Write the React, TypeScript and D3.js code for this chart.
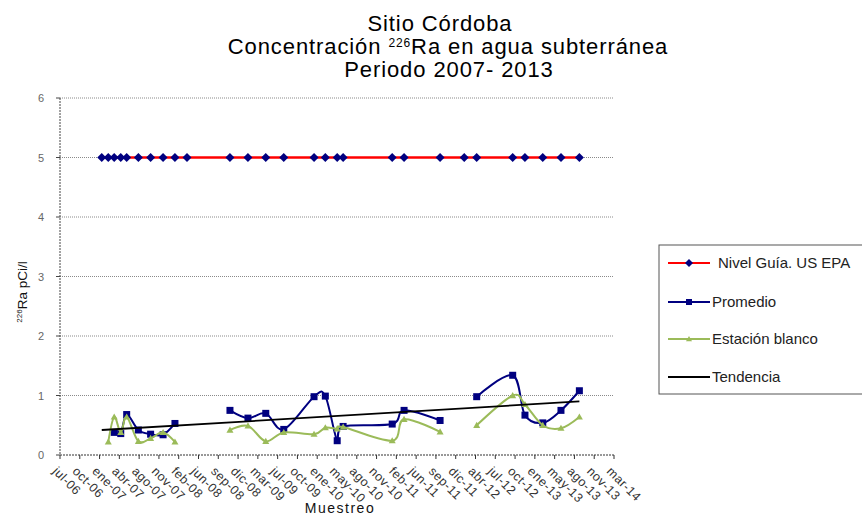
import React from "react";
import * as d3 from "d3";

const sampleDates = [
  "2007-01-29", "2007-03-03", "2007-04-02", "2007-05-05", "2007-06-04", "2007-08-02",
  "2007-10-03", "2007-12-05", "2008-02-03", "2008-04-04", "2008-11-07", "2009-02-06",
  "2009-05-07", "2009-08-06", "2010-01-06", "2010-03-04", "2010-05-03", "2010-06-02",
  "2011-02-05", "2011-04-06", "2011-10-05", "2012-02-04", "2012-04-07", "2012-10-06",
  "2012-12-07", "2013-03-07", "2013-06-07", "2013-09-08",
];
const nivelGuia = sampleDates.map(() => 5);
const promedio: (number | null)[] = [
  null, null, 0.38, 0.36, 0.68, 0.42, 0.35, 0.34, 0.53, null, 0.75, 0.62,
  0.70, 0.43, 0.98, 0.99, 0.24, 0.48, 0.52, 0.75, 0.58, null, 0.98, 1.34,
  0.67, 0.54, 0.75, 1.08,
];
const estacionBlanco: (number | null)[] = [
  null, 0.22, 0.64, 0.38, 0.64, 0.23, 0.28, 0.38, 0.22, null, 0.42, 0.49,
  0.23, 0.38, 0.35, 0.46, 0.44, 0.47, 0.24, 0.60, 0.39, null, 0.50, 1.0,
  0.85, 0.50, 0.45, 0.64,
];
const tendencia = [0.42, 0.9];
const axisStart = "2006-07-02";
const axisEnd = "2014-03-02";
const tickStepDays = 100;
const xTickLabels = [
  "jul-06", "oct-06", "ene-07", "abr-07", "ago-07", "nov-07", "feb-08", "jun-08",
  "sep-08", "dic-08", "mar-09", "jul-09", "oct-09", "ene-10", "may-10", "ago-10",
  "nov-10", "feb-11", "jun-11", "sep-11", "dic-11", "abr-12", "jul-12", "oct-12",
  "ene-13", "may-13", "ago-13", "nov-13", "mar-14",
];
const yTicks = [0, 1, 2, 3, 4, 5, 6];
const legendLabels = ["Nivel Guía. US EPA", "Promedio", "Estación blanco", "Tendencia"];

const W = 862, H = 516;
const M = { left: 60, right: 614, top: 98, bottom: 455 };
const FONT = "'Liberation Sans', Arial, sans-serif";
const NAVY = "#000080";
const GREEN = "#9BBB59";
const RED = "#FF0000";

export default function App() {
  const parse = d3.utcParse("%Y-%m-%d");
  const start = parse(axisStart)!;
  const end = parse(axisEnd)!;
  const x = d3.scaleUtc().domain([start, end]).range([M.left, M.right]);
  const y = d3.scaleLinear().domain([0, 6]).range([M.bottom, M.top]);
  const dates = sampleDates.map((s) => parse(s)!);
  const tickDates = xTickLabels.map((_, i) => d3.utcDay.offset(start, i * tickStepDays));

  type P = { d: Date; v: number | null };
  const mk = (arr: (number | null)[]): P[] => arr.map((v, i) => ({ d: dates[i], v }));
  const smooth = d3
    .line<P>()
    .defined((p) => p.v != null)
    .x((p) => x(p.d))
    .y((p) => y(p.v as number))
    .curve(d3.curveCatmullRom.alpha(0));
  const straight = d3
    .line<P>()
    .x((p) => x(p.d))
    .y((p) => y(p.v as number));

  const nivelPts = mk(nivelGuia);
  const promPts = mk(promedio);
  const estPts = mk(estacionBlanco);
  const trendPts: P[] = [
    { d: dates[0], v: tendencia[0] },
    { d: dates[dates.length - 1], v: tendencia[1] },
  ];

  const diamond = (cx: number, cy: number, r: number) =>
    `M${cx},${cy - r}L${cx + r},${cy}L${cx},${cy + r}L${cx - r},${cy}Z`;
  const tri = (cx: number, cy: number, r: number) =>
    `M${cx},${cy - r}L${cx + r},${cy + r * 0.75}L${cx - r},${cy + r * 0.75}Z`;

  const legendY = [263, 302, 339, 377];

  return (
    <svg
      width={W}
      height={H}
      style={{ position: "absolute", left: 0, top: 0, background: "#fff" }}
      fontFamily={FONT}
    >
      <rect width={W} height={H} fill="#fff" />
      {/* Title */}
      <g textAnchor="middle" fontSize={22} fill="#000" letterSpacing={0.9}>
        <text x={440} y={31}>Sitio Córdoba</text>
        <text x={448} y={54}>
          Concentración <tspan fontSize={12} dy={-7}>226</tspan>
          <tspan dy={7}>Ra en agua subterránea</tspan>
        </text>
        <text x={449} y={77}>Periodo 2007- 2013</text>
      </g>

      {/* gridlines */}
      {yTicks.filter((t) => t > 0).map((t) => (
        <line key={t} x1={M.left} x2={M.right} y1={y(t)} y2={y(t)} stroke="#8a8a8a" strokeWidth={1} strokeDasharray="1,1" />
      ))}
      {/* y axis */}
      <line x1={M.left} x2={M.left} y1={M.top} y2={M.bottom} stroke="#444" strokeDasharray="2,1" />
      {yTicks.map((t) => (
        <g key={t}>
          <line x1={M.left - 4} x2={M.left} y1={y(t)} y2={y(t)} stroke="#444" />
          <text x={44} y={y(t) + 4} fontSize={11} fill="#666" textAnchor="end">{t}</text>
        </g>
      ))}
      {/* x axis */}
      <line x1={M.left} x2={M.right} y1={M.bottom} y2={M.bottom} stroke="#333" strokeDasharray="2,1" />
      {tickDates.map((d, i) => (
        <g key={i}>
          <line x1={x(d)} x2={x(d)} y1={M.bottom} y2={M.bottom + 4} stroke="#333" />
          <text
            transform={`translate(${x(d) - 8},${M.bottom + 17}) rotate(45)`}
            fontSize={12.5}
            fill="#333"
            letterSpacing={0.5}
          >
            {xTickLabels[i]}
          </text>
        </g>
      ))}
      <text x={340} y={513} textAnchor="middle" fontSize={14} letterSpacing={1.5} fill="#111">Muestreo</text>

      {/* y axis title */}
      <text transform="translate(27,292) rotate(-90)" textAnchor="middle" fontSize={13.5} fill="#111">
        <tspan fontSize={8} dy={-5}>226</tspan>
        <tspan dy={5}>Ra pCi/l</tspan>
      </text>

      {/* Nivel guía */}
      <path d={straight(nivelPts) || ""} fill="none" stroke={RED} strokeWidth={2.5} />
      {nivelPts.map((p, i) => (
        <path key={i} d={diamond(x(p.d), y(p.v as number), 4.5)} fill={NAVY} />
      ))}

      {/* Promedio */}
      <path d={smooth(promPts) || ""} fill="none" stroke={NAVY} strokeWidth={2} />
      {promPts.filter((p) => p.v != null).map((p, i) => (
        <rect key={i} x={x(p.d) - 3.5} y={y(p.v as number) - 3.5} width={7} height={7} fill={NAVY} />
      ))}

      {/* Estación blanco */}
      <path d={smooth(estPts) || ""} fill="none" stroke={GREEN} strokeWidth={2} />
      {estPts.filter((p) => p.v != null).map((p, i) => (
        <path key={i} d={tri(x(p.d), y(p.v as number), 3.5)} fill={GREEN} />
      ))}

      {/* Tendencia */}
      <path d={straight(trendPts) || ""} fill="none" stroke="#000" strokeWidth={1.8} />

      {/* Legend */}
      <rect x={659} y={245} width={230} height={149} fill="#fff" stroke="#555" strokeWidth={1} />
      <g fontSize={15} fill="#222">
        <line x1={668} x2={710} y1={legendY[0]} y2={legendY[0]} stroke={RED} strokeWidth={2} />
        <path d={diamond(689, legendY[0], 4)} fill={NAVY} />
        <text x={718} y={legendY[0] + 5}>{legendLabels[0]}</text>

        <line x1={668} x2={710} y1={legendY[1]} y2={legendY[1]} stroke={NAVY} strokeWidth={2} />
        <rect x={686} y={legendY[1] - 3} width={6} height={6} fill={NAVY} />
        <text x={712} y={legendY[1] + 5}>{legendLabels[1]}</text>

        <line x1={668} x2={710} y1={legendY[2]} y2={legendY[2]} stroke={GREEN} strokeWidth={2} />
        <path d={tri(689, legendY[2], 3)} fill={GREEN} />
        <text x={712} y={legendY[2] + 5}>{legendLabels[2]}</text>

        <line x1={668} x2={710} y1={legendY[3]} y2={legendY[3]} stroke="#000" strokeWidth={2} />
        <text x={712} y={legendY[3] + 5}>{legendLabels[3]}</text>
      </g>
    </svg>
  );
}
